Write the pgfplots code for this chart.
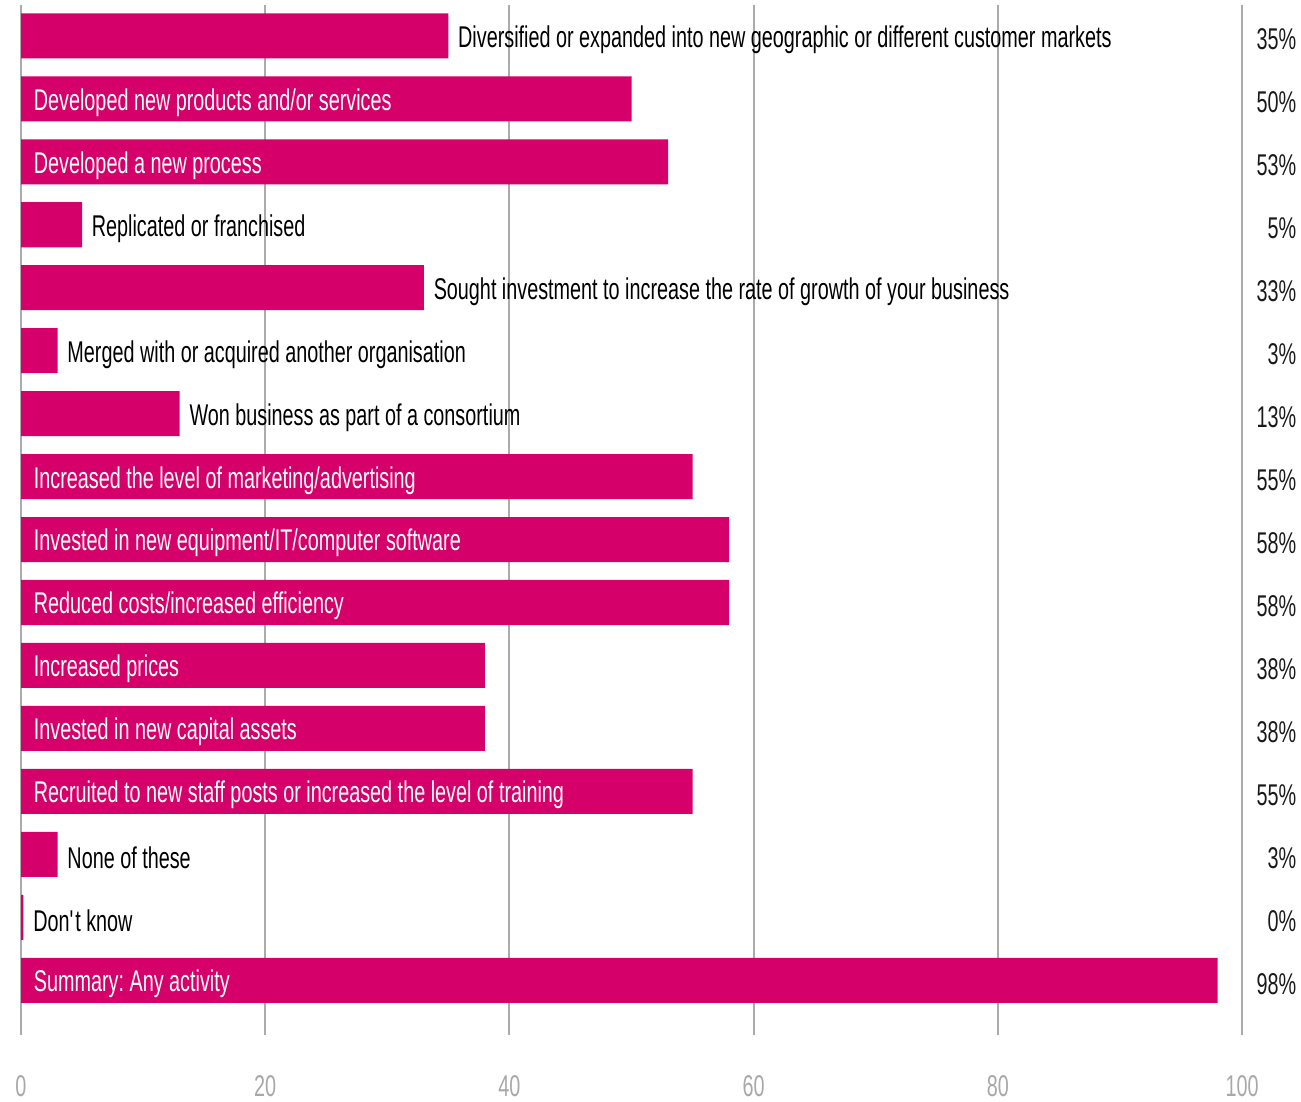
\documentclass[border=0pt]{standalone}
\usepackage{pgfplots}
\pgfplotsset{compat=1.18}
\usepackage{pgfplotstable}
\usepackage{fontspec}
\setmainfont{Liberation Sans}[FakeStretch=0.66]
\frenchspacing
\definecolor{barc}{HTML}{D5006A}
\definecolor{gridc}{HTML}{ABABAB}
\definecolor{tickc}{HTML}{A8A8A8}
\definecolor{pctc}{HTML}{1A1A1A}
\pgfplotstableread[col sep=comma]{
idx,val,pct,lin,lout
0,35,35,{},Diversified or expanded into new geographic or different customer markets
1,50,50,Developed new products and/or services,{}
2,53,53,Developed a new process,{}
3,5,5,{},Replicated or franchised
4,33,33,{},Sought investment to increase the rate of growth of your business
5,3,3,{},Merged with or acquired another organisation
6,13,13,{},Won business as part of a consortium
7,55,55,Increased the level of marketing/advertising,{}
8,58,58,Invested in new equipment/IT/computer software,{}
9,58,58,Reduced costs/increased efficiency,{}
10,38,38,Increased prices,{}
11,38,38,Invested in new capital assets,{}
12,55,55,Recruited to new staff posts or increased the level of training,{}
13,3,3,{},None of these
14,0.2,0,{},Don\textquotesingle t know
15,98,98,Summary: Any activity,{}
}\datatable
\begin{document}
\begin{tikzpicture}
\begin{axis}[
  name=ax,
  scale only axis,
  width=366.3pt, height=309pt,
  xmin=0, xmax=100,
  ymin=-0.49, ymax=15.87,
  y dir=reverse,
  clip=false,
  axis line style={draw=none},
  ytick=\empty,
  xtick={0,20,40,60,80,100},
  major tick length=0pt,
  xmajorgrids,
  grid style={gridc, line width=0.6pt},
  /pgf/number format/assume math mode=true,
  xticklabel style={font=\fontsize{9}{10}\selectfont, text=tickc, yshift=-8.5pt},
]
\addplot[xbar, bar width=0.715, fill=barc, draw=none]
  table[x=val, y=idx] {\datatable};
\addplot[draw=none, mark=none, point meta=explicit symbolic,
  nodes near coords,
  nodes near coords style={anchor=west, inner sep=0pt, yshift=-1.1pt, text=white, font=\fontsize{9}{10}\selectfont}]
  table[x expr=1, y=idx, meta=lin] {\datatable};
\addplot[draw=none, mark=none, point meta=explicit symbolic,
  nodes near coords,
  nodes near coords style={anchor=west, inner sep=0pt, yshift=-1.1pt, text=black, font=\fontsize{9}{10}\selectfont}]
  table[x expr=\thisrow{val}+0.75, y=idx, meta=lout] {\datatable};
\addplot[draw=none, mark=none, point meta=explicit symbolic,
  nodes near coords={\pgfplotspointmeta\%},
  nodes near coords style={anchor=east, inner sep=0pt, yshift=-1.1pt, text=pctc, font=\fontsize{9}{10}\selectfont}]
  table[x expr=104.5, y=idx, meta=pct] {\datatable};
\end{axis}
\pgfresetboundingbox
\path ([xshift=-6.3pt,yshift=-19.8pt]ax.south west) rectangle ([xshift=17.7pt,yshift=1.5pt]ax.north east);
\end{tikzpicture}
\end{document}
